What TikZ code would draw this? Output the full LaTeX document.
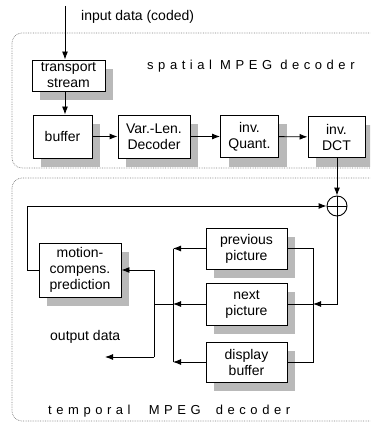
\documentclass[tikz,border=0pt]{standalone}
\usepackage{fontspec}
\setmainfont{Liberation Sans}
\usetikzlibrary{arrows.meta,shadows}
\begin{document}
\begin{tikzpicture}[x=1pt,y=-1pt,
  font=\fontsize{14}{16}\selectfont,
  blk/.style={draw=black,line width=0.9pt,fill=white,align=center,inner sep=0pt,
    drop shadow={shadow xshift=8pt,shadow yshift=-9pt,fill=gray!55,opacity=1}},
  panel/.style={draw=gray,densely dotted,line width=0.7pt,rounded corners=10pt},
  conn/.style={line width=0.9pt},
  arr/.style={conn,-{Latex[length=8pt,width=6pt]}},
  title/.style={anchor=west,inner sep=0pt,font=\fontsize{13}{15}\selectfont\addfontfeature{LetterSpace=35}}]
\clip (0,0) rectangle (370,422);
\useasboundingbox (0,0) rectangle (370,422);
% panels
\draw[panel] (12,33) rectangle (390,168);
\draw[panel] (12,178) rectangle (390,421);
\node[title] (tsp) at (147,66) {spatial MPEG decoder};
\node[title] (ttp) at (48,411) {temporal\hspace{10pt} MPEG\hspace{7pt} decoder};
% spatial blocks
\node[blk,minimum width=73pt,minimum height=31pt] (ts) at (68.5,75.5) {transport\\stream};
\node[blk,minimum width=59pt,minimum height=43pt] (buf) at (62.5,136.5) {buffer};
\node[blk,minimum width=72pt,minimum height=43pt] (vld) at (154,136.5) {Var.-Len.\\Decoder};
\node[blk,minimum width=58pt,minimum height=42pt] (iq) at (249.5,136.5) {inv.\\Quant.};
\node[blk,minimum width=57pt,minimum height=41pt] (idct) at (336.5,137) {inv.\\DCT};
% temporal blocks
\node[blk,minimum width=82pt,minimum height=54pt] (mc) at (80,270) {motion-\\compens.\\prediction};
\node[blk,minimum width=81pt,minimum height=41pt] (prev) at (246.5,248.5) {previous\\picture};
\node[blk,minimum width=81pt,minimum height=42pt] (next) at (246.5,304) {next\\picture};
\node[blk,minimum width=81pt,minimum height=40pt] (disp) at (246.5,362) {display\\buffer};
\node[draw=black,line width=0.9pt,circle,minimum size=20pt,inner sep=0pt] (sum) at (337,206) {};
\draw[conn] (sum.north) -- (sum.south) (sum.west) -- (sum.east);
% labels
\node[anchor=west,inner sep=0pt] (inl) at (81,17) {input data (coded)};
\node[anchor=west,inner sep=0pt] (outl) at (50,337) {output data};
% coordinates
\coordinate (in) at (65,6);
\coordinate (rb) at (313,0);
\coordinate (lb) at (173,0);
\coordinate (ob) at (154,0);
\coordinate (fb) at (27,0);
\coordinate (out) at (105,357);
% spatial connectors
\draw[arr] (in) -- (in |- ts.north);
\draw[arr] (in |- ts.south) -- (in |- buf.north);
\draw[arr] (buf) -- (vld);
\draw[arr] (vld) -- (iq);
\draw[arr] (iq) -- (idct);
\draw[arr] (idct.south -| sum) -- (sum.north);
% sum output to right bus
\draw[arr] (sum.south) |- (rb |- next.east);
\draw[conn] (prev.east) -| (rb |- disp.east) -- (disp.east);
\draw[conn] (next.east) -- (rb |- next.east);
% left bus
\draw[arr] (prev.west) -- (lb |- prev.west);
\draw[arr] (next.west) -- (lb |- next.west);
\draw[arr] (disp.west) -- (lb |- disp.west);
\draw[conn] (lb |- prev.west) -- (lb |- disp.west);
\draw[conn] (lb |- next.west) -- (ob |- next.west);
\draw[arr] (ob |- out) -- (ob |- mc.east) -- (mc.east);
\draw[arr] (ob |- out) -- (out);
% feedback
\draw[arr] (mc.west) -- (fb |- mc.west) -- (fb |- sum.west) -- (sum.west);
\end{tikzpicture}
\end{document}
